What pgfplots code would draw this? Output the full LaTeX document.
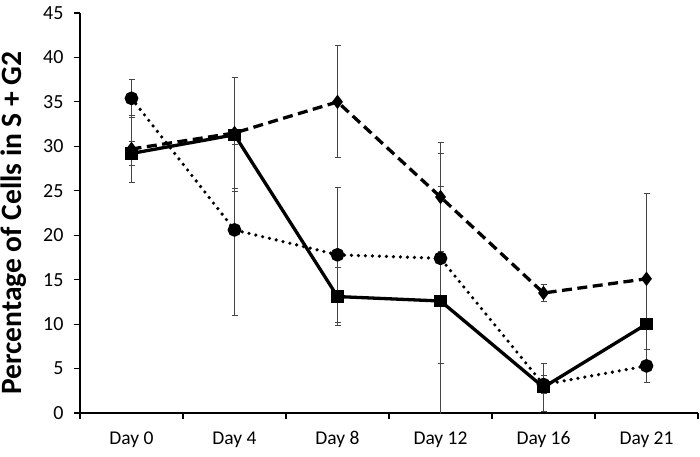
\documentclass[border=0pt]{standalone}
\usepackage{pgfplots}
\pgfplotsset{compat=1.18}
\usepackage{pgfplotstable}
\usepackage{fontspec}
\setmainfont{Carlito}
\pgfplotstableread{
x  s    se    d    de    o    oe
0  29.2 1.4   29.7 3.8   35.4 2.1
1  31.3 6.4   31.5 6.2   20.6 9.6
2  13.1 3.3   35.0 6.3   17.8 7.6
3  12.6 12.9  24.3 6.1   17.4 11.8
4  2.9  2.7   13.5 1.0   3.2  1.0
5  10.0 0.0   15.1 9.6   5.3  1.85
}\data
\begin{document}
\begin{tikzpicture}
\path[use as bounding box] (-80pt,-43pt) rectangle (620pt,413pt);
\begin{axis}[
  at={(0,0)}, anchor=south west,
  scale only axis, width=618pt, height=400pt,
  xmin=-0.5, xmax=5.5, ymin=0, ymax=45,
  axis lines*=left,
  axis line style={line width=1.2pt},
  xtick={0,1,2,3,4,5},
  xticklabels={Day 0,Day 4,Day 8,Day 12,Day 16,Day 21},
  minor xtick={-0.5,0.5,1.5,2.5,3.5,4.5,5.5},
  major x tick style={draw=none},
  minor x tick style={line width=1.2pt, black},
  minor tick length=6pt,
  ytick={0,5,...,45},
  major y tick style={line width=1.2pt, black},
  major tick length=6pt,
  tick align=outside,
  /pgf/number format/assume math mode=true,
  y tick label style={font=\fontsize{20}{20}\selectfont, xshift=-7pt},
  x tick label style={font=\fontsize{19.5}{20}\selectfont, yshift=-9pt},
  ylabel={Percentage of Cells in S + G2},
  ylabel style={font=\fontsize{29.5}{30}\selectfont\bfseries, at={(axis description cs:-0.094,0.475)}, anchor=base},
  every error bar/.append style={solid, gray!55!black, line width=0.8pt},
  error bars/error mark options={solid, rotate=90, mark size=3pt, gray!55!black, line width=0.8pt},
]
\addplot[black, line width=3.3pt, dash pattern=on 10pt off 5.5pt, mark=diamond*, mark size=4.5pt, mark options={solid},
  error bars/.cd, y dir=both, y explicit]
  table[x=x, y=d, y error=de] {\data};
\addplot[black, line width=3.6pt, dash pattern=on 0pt off 7pt, line cap=round, mark=*, mark size=5pt, mark options={solid},
  error bars/.cd, y dir=both, y explicit]
  table[x=x, y=o, y error=oe] {\data};
\addplot[black, line width=3.3pt, mark=square*, mark size=4.5pt, mark options={solid},
  error bars/.cd, y dir=both, y explicit]
  table[x=x, y=s, y error=se] {\data};
\end{axis}
\end{tikzpicture}
\end{document}
